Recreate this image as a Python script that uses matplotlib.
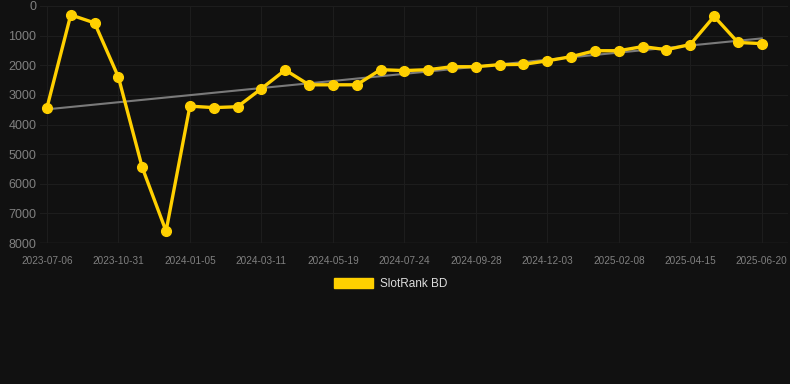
import numpy as np
from matplotlib import pyplot as plt

plt.rcParams['font.family'] = ['Liberation Sans', 'DejaVu Sans']

# rank per sample (lower is better), one point every ~3 weeks
ranks = [3440, 300, 570, 2400, 5450, 7600, 3380, 3430, 3400, 2790,
         2160, 2660, 2660, 2660, 2150, 2180, 2150, 2050, 2050, 1980,
         1970, 1850, 1710, 1510, 1510, 1370, 1475, 1300, 350, 1230, 1270]
tick_labels = ['2023-07-06', '2023-10-31', '2024-01-05', '2024-03-11', '2024-05-19',
               '2024-07-24', '2024-09-28', '2024-12-03', '2025-02-08', '2025-04-15',
               '2025-06-20']
y_ticks = [0, 1000, 2000, 3000, 4000, 5000, 6000, 7000, 8000]

bg = '#111111'
gold = '#FFD000'

fig = plt.figure(figsize=(7.9, 3.84), dpi=100, facecolor=bg)
ax = fig.add_axes([40/790, 1-243/384, 748/790, 237/384], facecolor=bg)

x = np.arange(len(ranks))
# trend line (least squares)
k, b = np.polyfit(x, ranks, 1)
ax.plot(x, k*x + b, color='#7a7a7a', lw=1.5, zorder=2)

ax.plot(x, ranks, color=gold, lw=2.4, marker='o', markersize=7,
        label='SlotRank BD', zorder=3)

ax.set_ylim(8000, 0)
ax.set_xlim(-0.29, 31.1)
ax.set_yticks(y_ticks)
ax.set_yticklabels([str(v) for v in y_ticks])
ax.set_xticks(x[::3])
ax.set_xticklabels(tick_labels)

ax.grid(True, color='#1d1d1d', lw=0.8)
for s in ax.spines.values():
    s.set_visible(False)
ax.axhline(8000, color='#2c2c2c', lw=1, zorder=1)
ax.tick_params(axis='y', length=0, pad=2.5, labelsize=9, labelcolor='#808080')
ax.tick_params(axis='x', length=0, pad=9, labelsize=7.2, labelcolor='#808080')

leg = fig.legend(handles=[plt.Rectangle((0, 0), 1, 1, color=gold)], labels=['SlotRank BD'],
                 loc='center', bbox_to_anchor=(391/790, 1-284/384), frameon=False,
                 handlelength=3.3, handleheight=1.0, handletextpad=0.6, fontsize=8.5)
for t in leg.get_texts():
    t.set_color('#dddddd')

fig.savefig('out.png', dpi=100, facecolor=bg)
